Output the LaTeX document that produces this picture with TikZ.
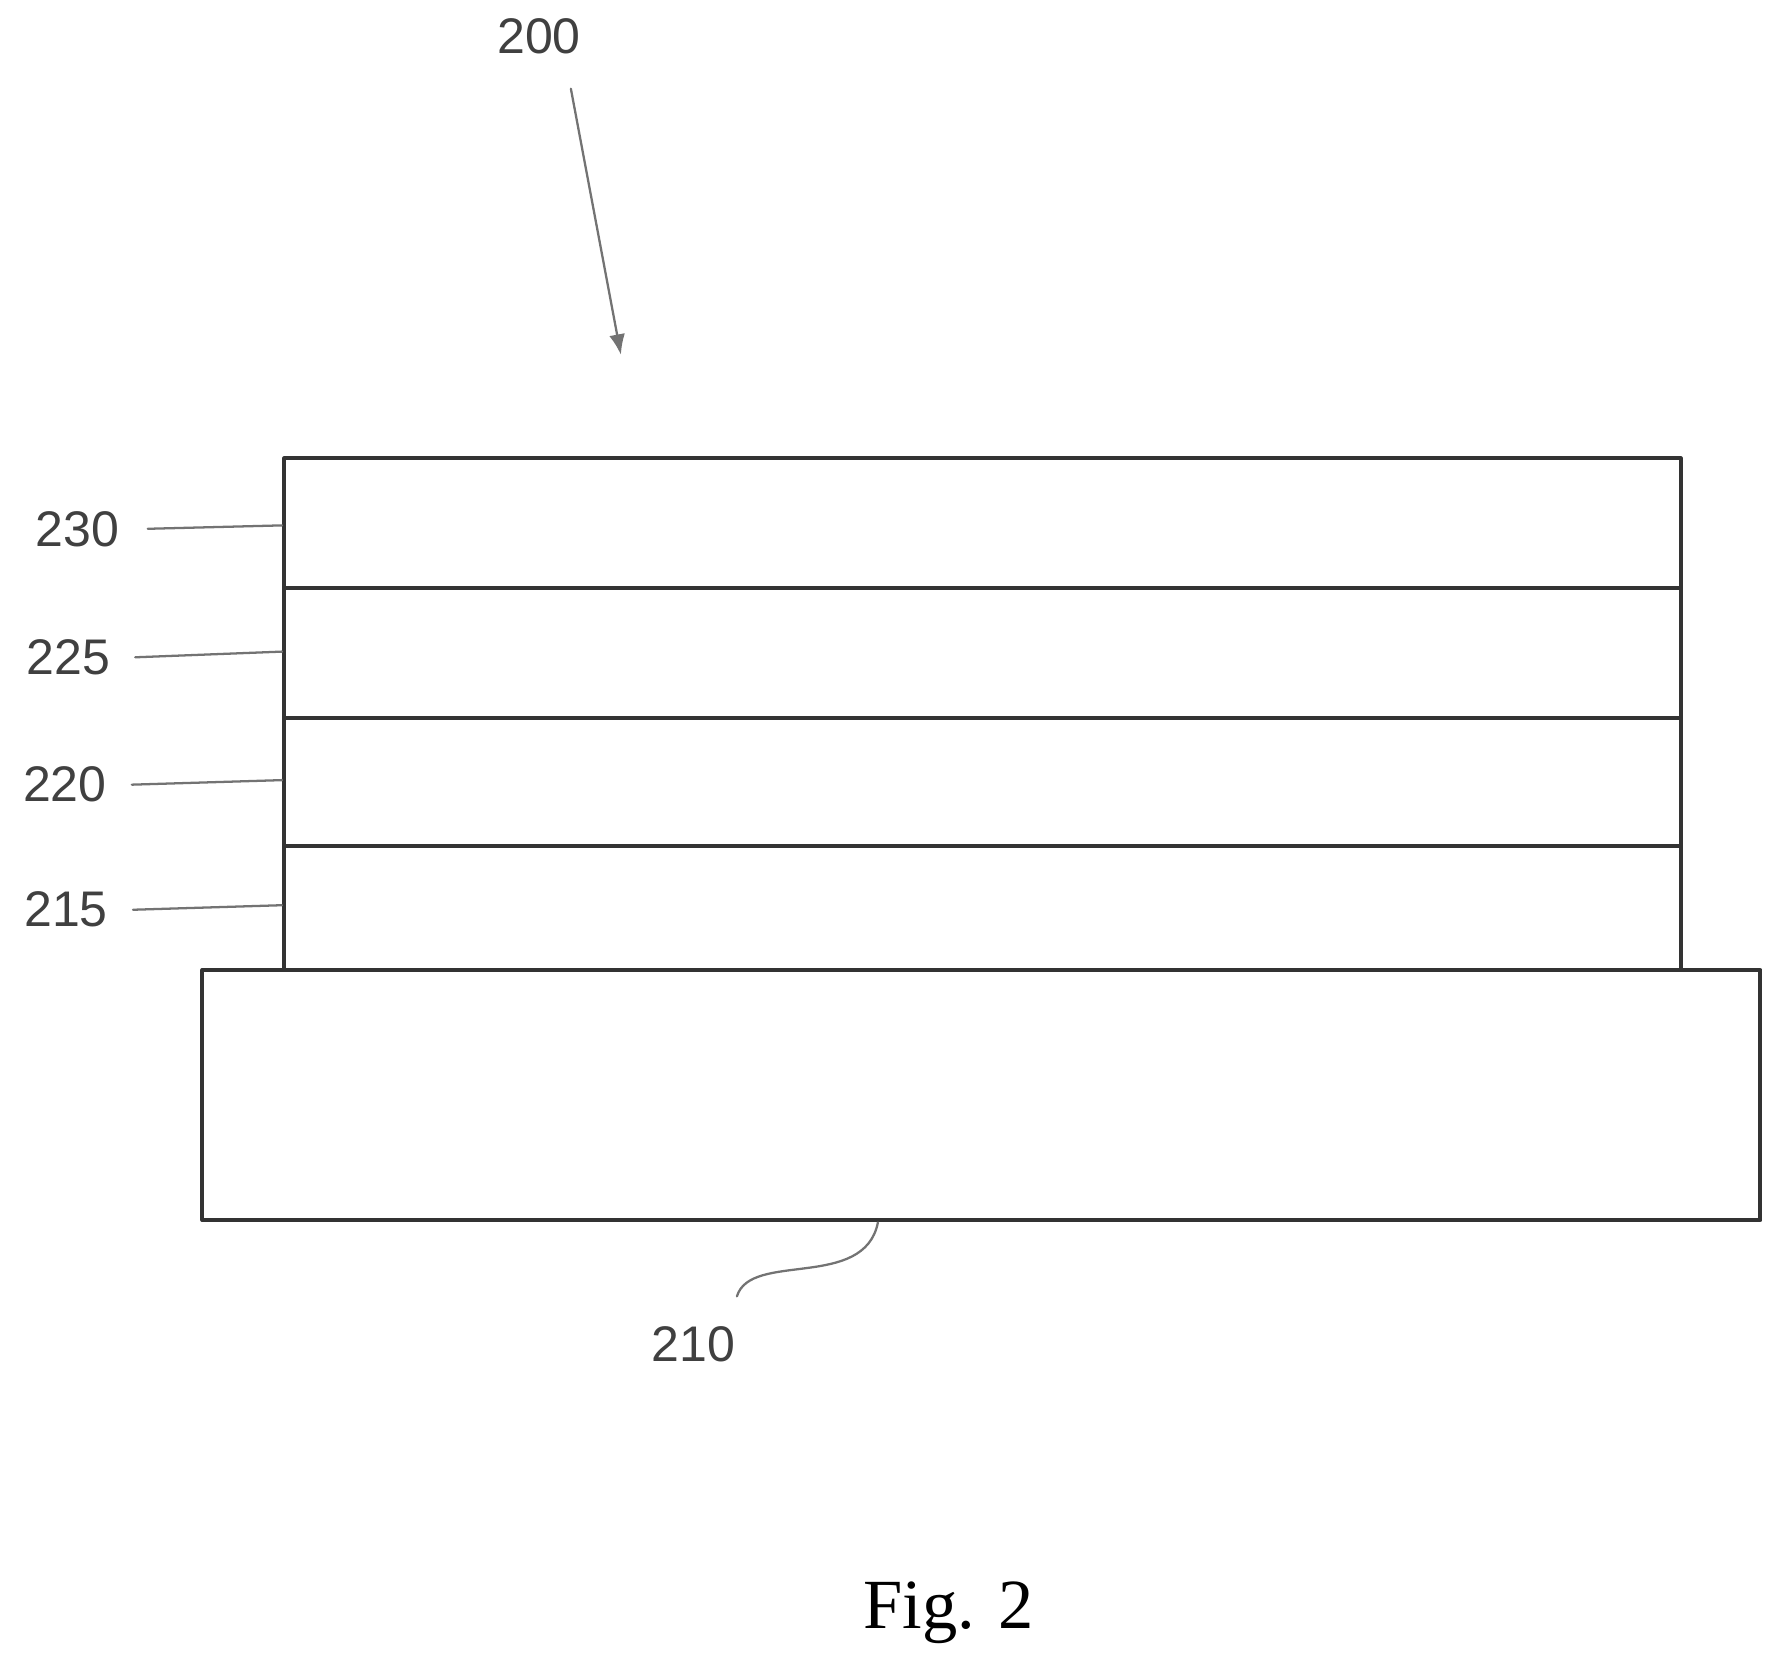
\documentclass[tikz,border=0pt]{standalone}
\usepackage{fontspec}
\setmainfont{Liberation Serif}
\setsansfont{Liberation Sans}
\usetikzlibrary{arrows.meta}
\begin{document}
\begin{tikzpicture}[line cap=round, line join=round, x=1pt, y=-1pt,
    layer/.style={draw=black!80, line width=3.5pt, fill=white},
    lbl/.style={font=\sffamily\fontsize{44}{48}\selectfont, text=black!75, inner sep=0pt},
    lead/.style={draw=black!55, line width=2pt}]

            \useasboundingbox (0,0) rectangle (1560,1457);

            % substrate and layer stack
            \draw[layer] (178,853) rectangle (1548,1073);
            \draw[layer] (250,403) rectangle (1478,853);
            \draw[layer] (250,517) -- (1478,517);
            \draw[layer] (250,631) -- (1478,631);
            \draw[layer] (250,744) -- (1478,744);

            % reference numerals
            \node[lbl] (n230) at (68,465) {230};
            \node[lbl] (n225) at (60,578) {225};
            \node[lbl] (n220) at (57,690) {220};
            \node[lbl] (n215) at (58,800) {215};
            \node[lbl] (n200) at (474,32) {200};
            \node[lbl] (n210) at (610,1182) {210};

            \coordinate (c230) at (248,462);
            \coordinate (c225) at (248,573);
            \coordinate (c220) at (248,686);
            \coordinate (c215) at (248,796);
            \coordinate (c200) at (546,312);
            \coordinate (c210) at (772,1075);

            \draw[lead] (n230.east) ++(25,0) -- (c230);
            \draw[lead] (n225.east) ++(22,0) -- (c225);
            \draw[lead] (n220.east) ++(22,0) -- (c220);
            \draw[lead] (n215.east) ++(22,0) -- (c215);
            \draw[lead, -{Latex[length=18pt,width=14pt]}] (502,78) -- (c200);
            \draw[lead] (648,1140) .. controls (660,1100) and (760,1135) .. (c210);

            \node[font=\fontsize{62}{66}\selectfont] (fig) at (834,1418) {Fig. 2};
\end{tikzpicture}
\end{document}
